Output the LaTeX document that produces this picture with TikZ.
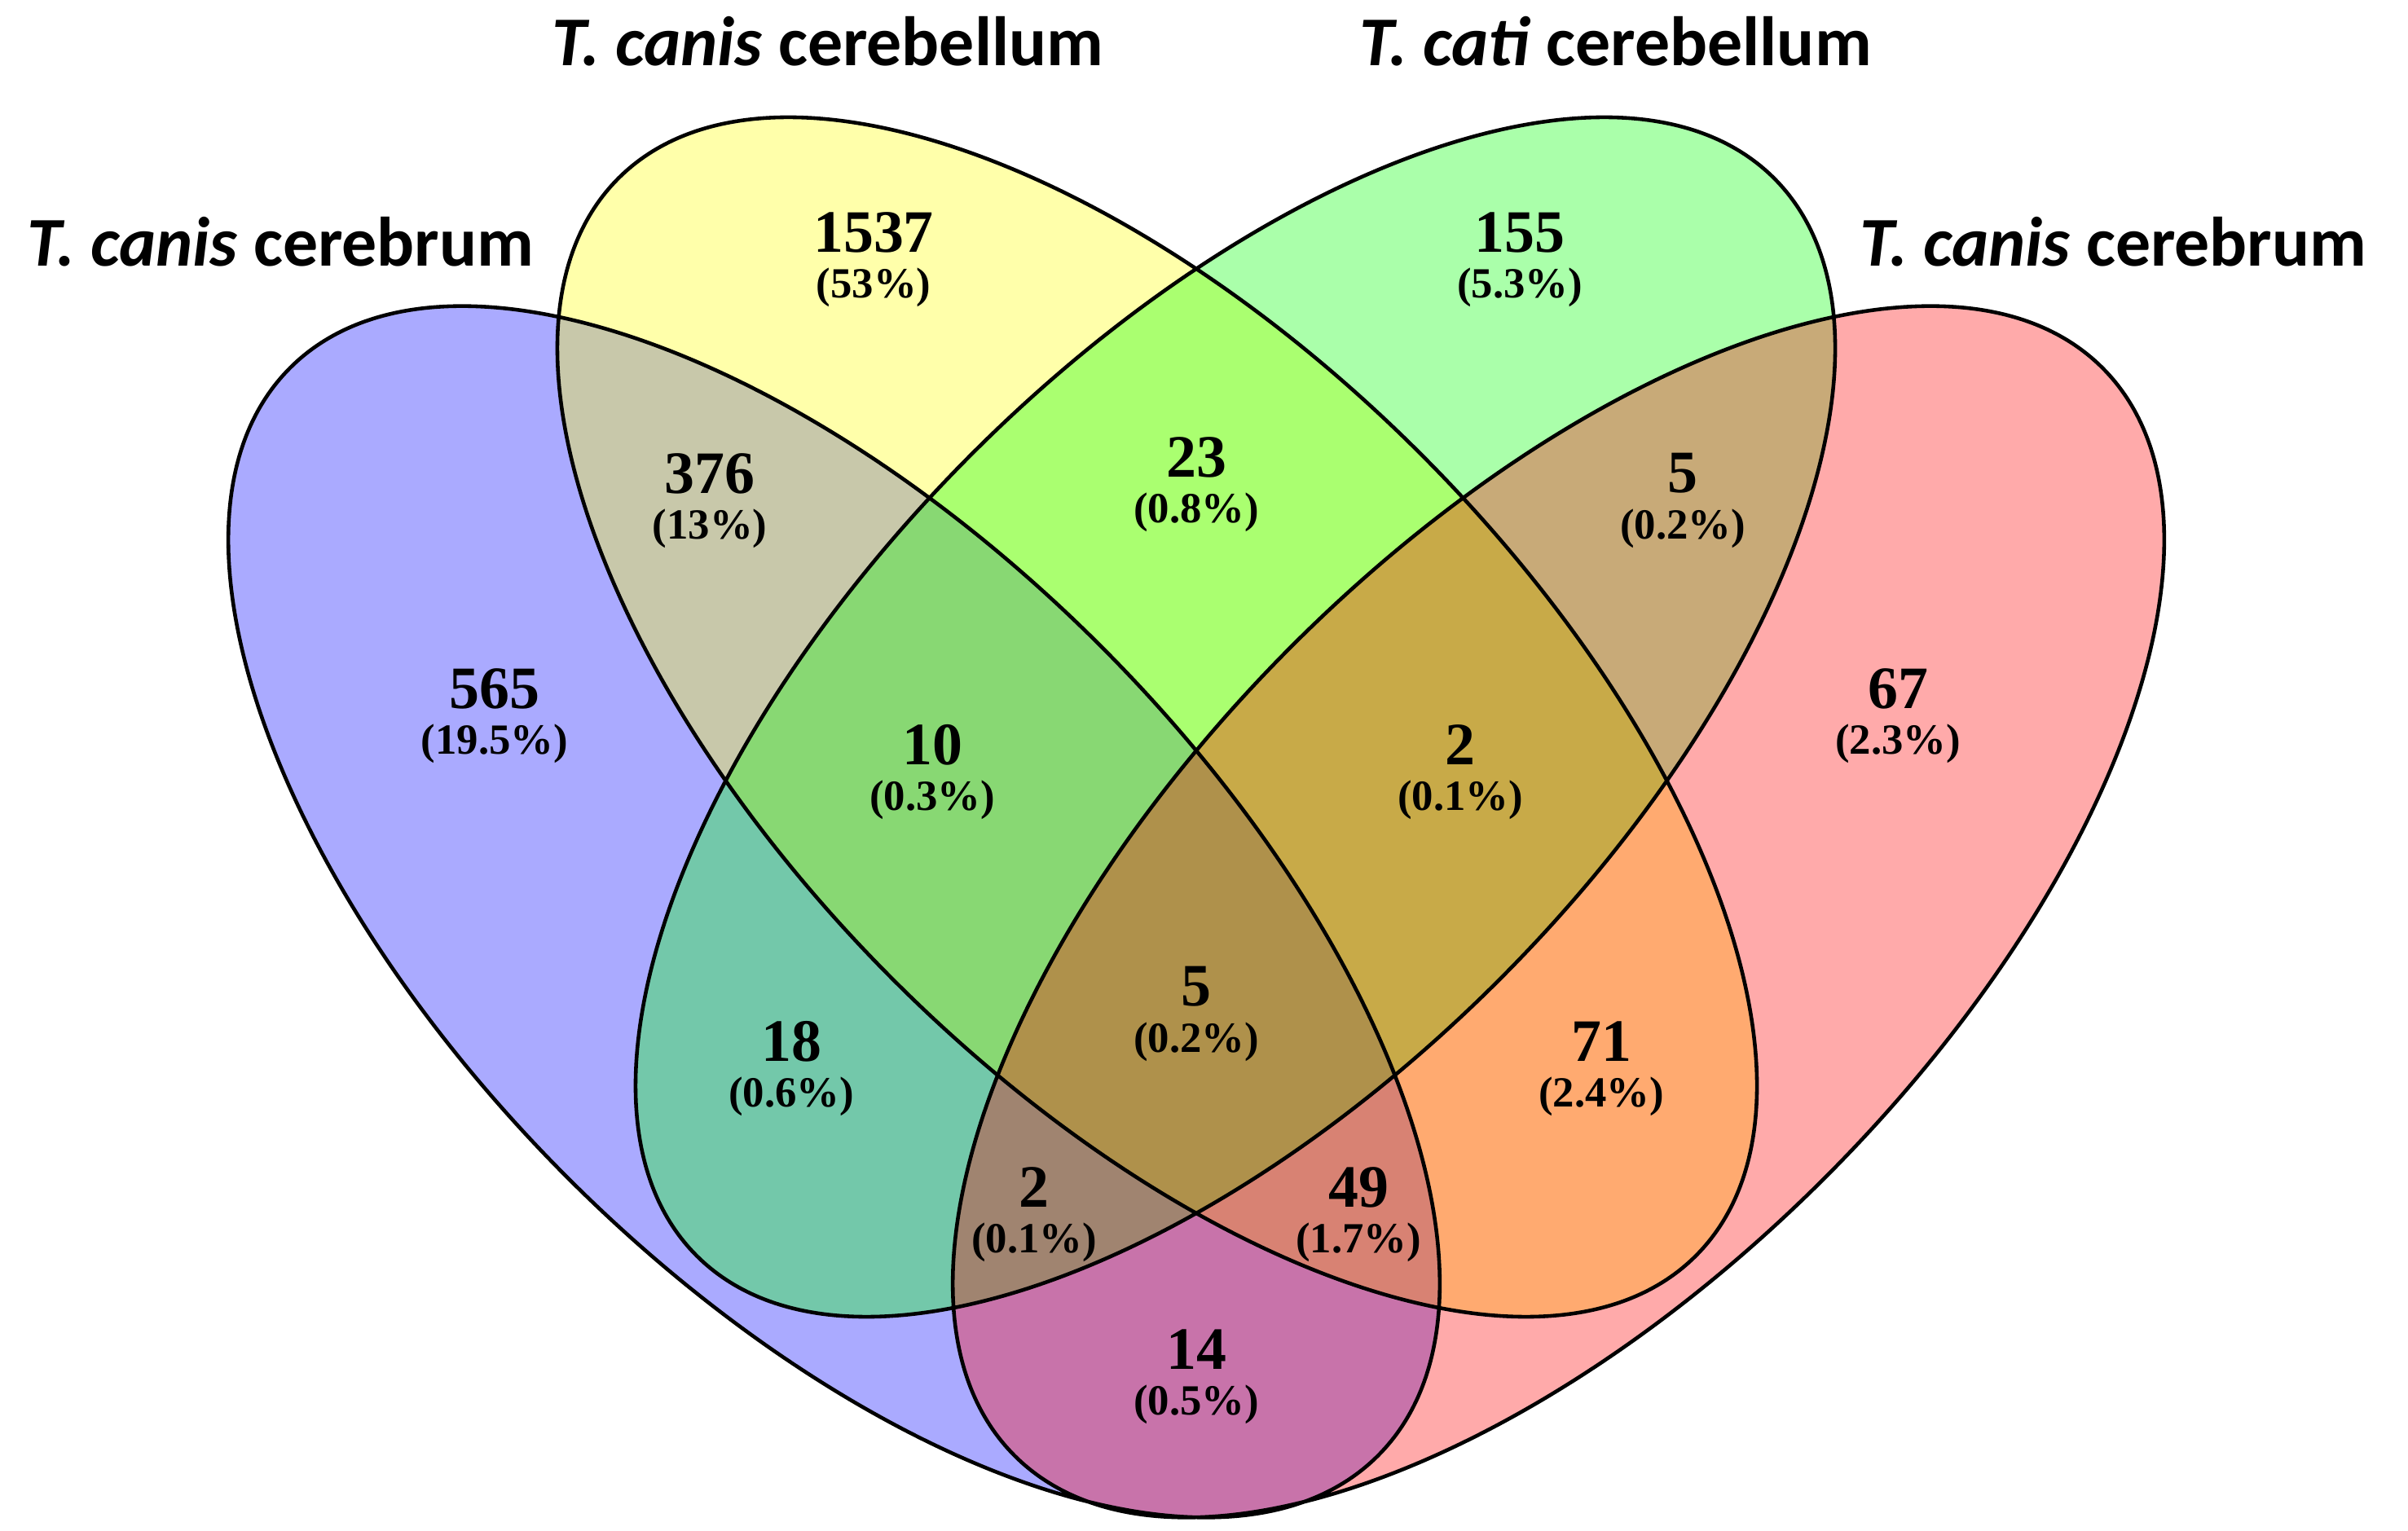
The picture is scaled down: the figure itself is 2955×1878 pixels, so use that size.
\documentclass[tikz,border=0pt]{standalone}
\usepackage{fontspec}
\setmainfont{Liberation Serif}
\newfontfamily\headfont{Carlito}
\usetikzlibrary{positioning}

\definecolor{cA}{RGB}{170,170,255}
\definecolor{cB}{RGB}{255,255,170}
\definecolor{cC}{RGB}{170,255,170}
\definecolor{cD}{RGB}{255,170,170}
\definecolor{cAB}{RGB}{200,200,170}
\definecolor{cAC}{RGB}{115,200,170}
\definecolor{cAD}{RGB}{200,115,170}
\definecolor{cBC}{RGB}{170,255,112}
\definecolor{cBD}{RGB}{255,170,112}
\definecolor{cCD}{RGB}{200,170,120}
\definecolor{cABC}{RGB}{136,216,115}
\definecolor{cABD}{RGB}{216,130,115}
\definecolor{cACD}{RGB}{160,132,112}
\definecolor{cBCD}{RGB}{200,170,72}
\definecolor{cABCD}{RGB}{175,145,75}

% the four sets
\newcommand{\ellA}{(1023.5,759) circle [x radius=944, y radius=462, rotate=-45]}
\newcommand{\ellB}{(1420,998) circle [x radius=935, y radius=457, rotate=-45]}
\newcommand{\ellC}{(1516,998) circle [x radius=935, y radius=457, rotate=45]}
\newcommand{\ellD}{(1912.5,759) circle [x radius=944, y radius=462, rotate=45]}

\begin{document}
\begin{tikzpicture}[x=0.01cm, y=0.01cm, on grid, node distance=0.68cm,
  count/.style={font=\bfseries\fontsize{21}{21}\selectfont, inner sep=0pt},
  share/.style={font=\bfseries\fontsize{15}{15}\selectfont, inner sep=0pt},
  head/.style={font=\headfont\bfseries\fontsize{24.4}{28}\selectfont, anchor=base west, inner sep=0pt}]
\useasboundingbox (0,0) rectangle (2955,1878);

% one set
\fill[cA] \ellA;
\fill[cB] \ellB;
\fill[cC] \ellC;
\fill[cD] \ellD;
% two sets
\begin{scope} \clip \ellA; \fill[cAB] \ellB; \end{scope}
\begin{scope} \clip \ellA; \fill[cAC] \ellC; \end{scope}
\begin{scope} \clip \ellA; \fill[cAD] \ellD; \end{scope}
\begin{scope} \clip \ellB; \fill[cBC] \ellC; \end{scope}
\begin{scope} \clip \ellB; \fill[cBD] \ellD; \end{scope}
\begin{scope} \clip \ellC; \fill[cCD] \ellD; \end{scope}
% three sets
\begin{scope} \clip \ellA; \clip \ellB; \fill[cABC] \ellC; \end{scope}
\begin{scope} \clip \ellA; \clip \ellB; \fill[cABD] \ellD; \end{scope}
\begin{scope} \clip \ellA; \clip \ellC; \fill[cACD] \ellD; \end{scope}
\begin{scope} \clip \ellB; \clip \ellC; \fill[cBCD] \ellD; \end{scope}
% all four
\begin{scope} \clip \ellA; \clip \ellB; \clip \ellC; \fill[cABCD] \ellD; \end{scope}

\draw[line width=1.3pt] \ellA \ellB \ellC \ellD;

% set names
\node[head] (hA) at (33,1551) {\textit{T. canis} cerebrum};
\node[head] (hB) at (677,1797) {\textit{T. canis} cerebellum};
\node[head] (hC) at (1668,1797) {\textit{T. cati} cerebellum};
\node[head] (hD) at (2282,1551) {\textit{T. canis} cerebrum};

% counts
\node[count] (nB) at (1072,1593) {1537};
\node[share, below=of nB] (pB) {(53\%)};
\node[count] (nC) at (1865,1593) {155};
\node[share, below=of nC] (pC) {(5.3\%)};
\node[count] (nA) at (607,1033) {565};
\node[share, below=of nA] (pA) {(19.5\%)};
\node[count] (nD) at (2329,1033) {67};
\node[share, below=of nD] (pD) {(2.3\%)};
\node[count] (nAB) at (871,1297) {376};
\node[share, below=of nAB] (pAB) {(13\%)};
\node[count] (nCD) at (2065,1297) {5};
\node[share, below=of nCD] (pCD) {(0.2\%)};
\node[count] (nBC) at (1468,1317) {23};
\node[share, below=of nBC] (pBC) {(0.8\%)};
\node[count] (nABC) at (1144,964) {10};
\node[share, below=of nABC] (pABC) {(0.3\%)};
\node[count] (nBCD) at (1792,964) {2};
\node[share, below=of nBCD] (pBCD) {(0.1\%)};
\node[count] (nABCD) at (1468,667) {5};
\node[share, below=of nABCD] (pABCD) {(0.2\%)};
\node[count] (nAC) at (971,600) {18};
\node[share, below=of nAC] (pAC) {(0.6\%)};
\node[count] (nBD) at (1965,600) {71};
\node[share, below=of nBD] (pBD) {(2.4\%)};
\node[count] (nACD) at (1269,421) {2};
\node[share, below=of nACD] (pACD) {(0.1\%)};
\node[count] (nABD) at (1667,421) {49};
\node[share, below=of nABD] (pABD) {(1.7\%)};
\node[count] (nAD) at (1468,222) {14};
\node[share, below=of nAD] (pAD) {(0.5\%)};
\end{tikzpicture}
\end{document}
